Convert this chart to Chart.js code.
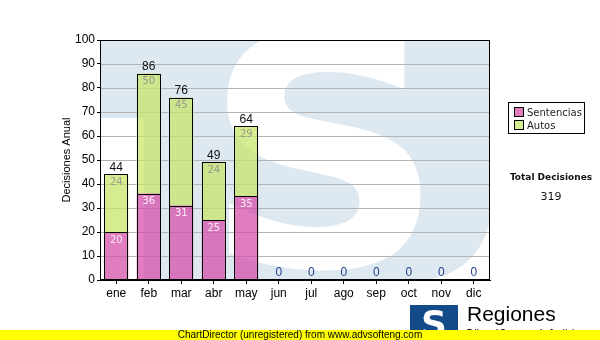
<!DOCTYPE html>
<html>
<head>
<meta charset="utf-8">
<script src="https://cdn.jsdelivr.net/npm/chart.js@4/dist/chart.umd.min.js"></script>
<style>
  html, body { margin: 0; padding: 0; background: #fff; }
  #wrap { position: relative; width: 600px; height: 340px; overflow: hidden; font-family: "DejaVu Sans", Verdana, sans-serif; }
  #c { position: absolute; left: 0; top: 0; }
  .legend { position: absolute; left: 508px; top: 102px; width: 77px; height: 32px; border: 1px solid #000; box-sizing: border-box; font-size: 10px; padding: 3px 0 0 5px; line-height: 13px; color: #222; }
  .legend span.sw { display: inline-block; width: 8px; height: 8px; border: 1px solid #000; margin-right: 3px; vertical-align: -1px; }
  .total { position: absolute; left: 500px; width: 102px; text-align: center; font-size: 10px; color: #111; }
  .logo { position: absolute; left: 410px; top: 305px; width: 48px; height: 32px; background: #134a8a; color: #fff; font: bold 36px "DejaVu Sans", sans-serif; line-height: 38px; text-align: center; }
  .regiones { position: absolute; left: 467px; top: 302px; font: 21px "Liberation Sans", Arial, sans-serif; color: #000; }
  .sub { position: absolute; left: 467px; top: 327px; font: bold 8px "Liberation Sans", Arial, sans-serif; color: #000; }
  .bar { position: absolute; left: 0; top: 330px; width: 600px; height: 10px; background: #ffff00; font: 10px "Liberation Sans", Arial, sans-serif; line-height: 10px; text-align: center; color: #000; }
</style>
</head>
<body>
<div id="wrap">
  <canvas id="c" width="600" height="340"></canvas>
  <div class="legend">
    <div><span class="sw" style="background:#e07cc0"></span>Sentencias</div>
    <div><span class="sw" style="background:#d5ec91"></span>Autos</div>
  </div>
  <div class="total" style="top:172px;font-weight:bold;font-size:9px;">Total Decisiones</div>
  <div class="total" style="top:190px;font-size:11px;">319</div>
  <div class="logo">S</div>
  <div class="regiones">Regiones</div>
  <div class="sub">Tribunal Supremo de Justicia</div>
  <div class="bar">ChartDirector (unregistered) from www.advsofteng.com</div>
</div>
<script>
const months = ["ene", "feb", "mar", "abr", "may", "jun", "jul", "ago", "sep", "oct", "nov", "dic"];
const sentencias = [20, 36, 31, 25, 35, 0, 0, 0, 0, 0, 0, 0];
const autos = [24, 50, 45, 24, 29, 0, 0, 0, 0, 0, 0, 0];
const totals = months.map((m, i) => sentencias[i] + autos[i]);

const plotDecor = {
  id: "plotDecor",
  beforeDatasetsDraw(chart) {
    const { ctx, chartArea: a } = chart;
    ctx.save();
    ctx.beginPath();
    ctx.rect(a.left, a.top, a.right - a.left, a.bottom - a.top);
    ctx.clip();
    // watermark: light blue logo block with white S
    ctx.fillStyle = "#dee8f1";
    ctx.fillRect(a.left, a.top, 46, 78);
    ctx.beginPath();
    ctx.roundRect(a.left + 44, a.top - 20, a.right - a.left - 44 + 1, a.bottom - a.top + 20, [0, 0, 72, 0]);
    ctx.fill();
    ctx.fillStyle = "#fff";
    ctx.font = "bold 320px 'DejaVu Sans'";
    ctx.textAlign = "center";
    ctx.textBaseline = "alphabetic";
    ctx.translate(324, 266);
    ctx.scale(1.05, 1);
    ctx.fillText("S", 0, 0);
    ctx.restore();
    // horizontal grid lines on top of watermark
    const y = chart.scales.y;
    ctx.save();
    ctx.strokeStyle = "#b4b4b4";
    ctx.lineWidth = 1;
    for (let v = 10; v < 100; v += 10) {
      const py = Math.round(y.getPixelForValue(v)) + 0.5;
      ctx.beginPath();
      ctx.moveTo(a.left, py);
      ctx.lineTo(a.right, py);
      ctx.stroke();
    }
    ctx.restore();
  },
  afterDatasetsDraw(chart) {
    const { ctx, chartArea: a } = chart;
    const m0 = chart.getDatasetMeta(0).data;
    const m1 = chart.getDatasetMeta(1).data;
    ctx.save();
    // bar outlines
    ctx.strokeStyle = "#000";
    ctx.lineWidth = 1;
    [m0, m1].forEach((meta) => {
      meta.forEach((el) => {
        if (Math.abs(el.base - el.y) < 0.5) return;
        const x0 = Math.round(el.x - el.width / 2) + 0.5;
        const x1 = Math.round(el.x + el.width / 2) - 0.5;
        const y0 = Math.round(el.y) + 0.5;
        const y1 = Math.round(el.base) + 0.5;
        ctx.strokeRect(x0, y0, x1 - x0, y1 - y0);
      });
    });
    ctx.textAlign = "center";
    ctx.font = "10px 'DejaVu Sans'";
    months.forEach((m, i) => {
      if (sentencias[i] > 0) {
        ctx.fillStyle = "#fbe9f4";
        ctx.textBaseline = "top";
        ctx.fillText(sentencias[i], m0[i].x, m0[i].y + 3);
      }
      if (autos[i] > 0) {
        ctx.fillStyle = "#9a9a8a";
        ctx.textBaseline = "top";
        ctx.fillText(autos[i], m1[i].x, m1[i].y + 3);
      }
    });
    ctx.font = "12px 'Liberation Sans'";
    ctx.textBaseline = "bottom";
    months.forEach((m, i) => {
      const top = Math.min(m0[i].y, m1[i].y);
      ctx.fillStyle = totals[i] > 0 ? "#111" : "#22408a";
      ctx.fillText(totals[i], m1[i].x, top - 1);
    });
    // plot border
    ctx.strokeRect(a.left + 0.5, a.top + 0.5, a.right - a.left - 1, a.bottom - a.top - 1);
    // y axis title
    ctx.translate(67, (a.top + a.bottom) / 2);
    ctx.rotate(-Math.PI / 2);
    ctx.font = "11px 'Liberation Sans'";
    ctx.fillStyle = "#000";
    ctx.textBaseline = "middle";
    ctx.fillText("Decisiones Anual", 0, 0);
    ctx.restore();
  }
};

new Chart(document.getElementById("c"), {
  type: "bar",
  data: {
    labels: months,
    datasets: [
      { label: "Sentencias", data: sentencias, backgroundColor: "rgba(214,80,171,0.75)", borderWidth: 0 },
      { label: "Autos", data: autos, backgroundColor: "rgba(199,230,108,0.75)", borderWidth: 0 }
    ]
  },
  options: {
    responsive: false,
    animation: false,
    devicePixelRatio: 1,
    layout: { padding: { left: 0, top: 40, right: 110, bottom: 0 } },
    plugins: { legend: { display: false }, tooltip: { enabled: false } },
    datasets: { bar: { categoryPercentage: 1, barPercentage: 0.74 } },
    scales: {
      x: {
        stacked: true,
        grid: { offset: false, drawOnChartArea: false, tickLength: 4, color: "#000" },
        border: { color: "#000" },
        ticks: { color: "#000", padding: 2, font: { family: "Liberation Sans", size: 12 } },
        afterFit(s) { s.height = 60; }
      },
      y: {
        stacked: true,
        min: 0,
        max: 100,
        grid: { drawOnChartArea: false, tickLength: 3, color: "#000" },
        border: { color: "#000" },
        ticks: { stepSize: 10, color: "#000", padding: 2, font: { family: "Liberation Sans", size: 12 } },
        afterFit(s) { s.width = 100; }
      }
    }
  },
  plugins: [plotDecor]
});
</script>
</body>
</html>
